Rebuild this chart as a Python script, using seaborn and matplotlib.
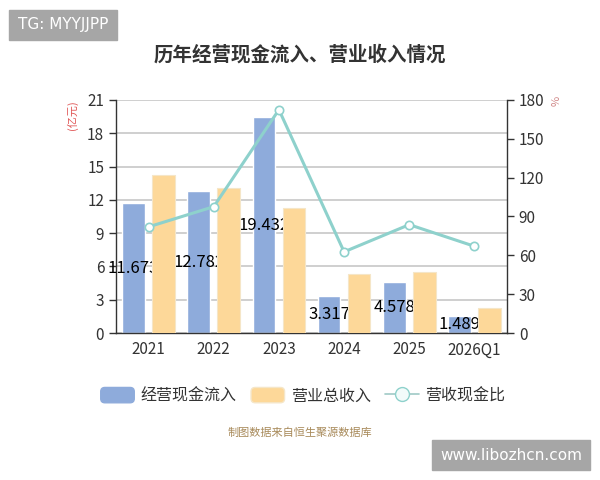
import matplotlib
matplotlib.use("Agg")
import matplotlib.pyplot as plt
from matplotlib.patches import Patch, Rectangle, FancyBboxPatch
from matplotlib.lines import Line2D
from matplotlib.legend_handler import HandlerPatch
import seaborn as sns
import numpy as np
import pandas as pd

years = ["2021", "2022", "2023", "2024", "2025", "2026Q1"]
cash_inflow = [11.673, 12.782, 19.432, 3.317, 4.578, 1.489]
revenue = [14.23, 13.10, 11.26, 5.29, 5.47, 2.22]
cash_ratio = [82.0, 97.6, 172.5, 62.7, 83.7, 67.0]

sns.set_style("white")
plt.rcParams['font.family'] = ['Noto Sans CJK SC', 'DejaVu Sans']

blue = "#8eabdb"
orange = "#fdd899"
teal = "#8ed1cc"
dark = "#333333"

df = pd.DataFrame({
    "year": years * 2,
    "value": cash_inflow + revenue,
    "kind": ["经营现金流入"] * len(years) + ["营业总收入"] * len(years),
})

fig = plt.figure(figsize=(6, 4.8), dpi=100)
ax = fig.add_axes([116 / 600, 1 - 333 / 480, 391 / 600, 233 / 480])

sns.barplot(data=df, x="year", y="value", hue="kind", order=years,
            palette=[blue, orange], width=0.92, gap=0.24, ax=ax,
            legend=False, saturation=1, zorder=2)

# labels sit on the blue bars, the orange bars are drawn over them
ax.bar_label(ax.containers[0], labels=[f"{v:.3f}" for v in cash_inflow],
             label_type="center", fontsize=12, color="black", zorder=3)
for p in ax.containers[1]:
    p.set_zorder(4)
    p.set_edgecolor("#f5e6c8")
    p.set_linewidth(0.8)

ax.set_ylim(0, 21)
ax.set_yticks(np.arange(0, 22, 3))
ax.set_xlim(-0.5, len(years) - 0.5)
ax.set_xticks(np.arange(-0.5, len(years), 1))
ax.set_xticklabels([])
ax.set_xticks(np.arange(len(years)), minor=True)
ax.set_xticklabels(years, minor=True, fontsize=11, color=dark)
ax.tick_params(axis="x", which="minor", length=0, pad=6)
ax.tick_params(axis="x", which="major", length=5, width=1, color=dark, direction="out")
ax.tick_params(axis="y", length=5, width=1, color=dark, labelsize=11, labelcolor=dark)
ax.set_xlabel("")
ax.set_ylabel("")
ax.yaxis.grid(True, color="#cccccc", lw=1.3)
ax.set_axisbelow(True)
for s in ["left", "bottom"]:
    ax.spines[s].set_color(dark)
    ax.spines[s].set_linewidth(1)
ax.spines["top"].set_visible(False)
ax.spines["right"].set_visible(False)

ax2 = ax.twinx()
xs = np.arange(len(years))
sns.lineplot(x=xs, y=cash_ratio, ax=ax2, color=teal, lw=2.2, marker="o",
             markersize=6, markerfacecolor="white", markeredgecolor=teal,
             markeredgewidth=1.2, zorder=5)
ax2.set_ylim(0, 180)
ax2.set_yticks(np.arange(0, 181, 30))
ax2.tick_params(axis="y", length=5, width=1, color=dark, labelsize=11, labelcolor=dark)
ax2.spines["right"].set_color(dark)
ax2.spines["right"].set_linewidth(1)
for s in ["left", "top", "bottom"]:
    ax2.spines[s].set_visible(False)
ax2.set_xlim(-0.5, len(years) - 0.5)

fig.text(72 / 600, 1 - 115 / 480, "(亿元)", rotation=90, color="#e05555",
         fontsize=8, ha="center", va="center")
fig.text(557 / 600, 1 - 101 / 480, "%", rotation=90, color="#d08888",
         fontsize=8, ha="center", va="center")

fig.text(0.5, 1 - 55 / 480, "历年经营现金流入、营业收入情况", fontsize=14,
         fontweight="bold", color=dark, ha="center", va="center")

# watermark boxes
fig.patches.append(Rectangle((9 / 600, 1 - 40 / 480), 108 / 600, 30 / 480,
                             transform=fig.transFigure, color="#a6a6a6", zorder=0))
fig.text(63 / 600, 1 - 25 / 480, "TG: MYYJJPP", fontsize=11, color="white",
         ha="center", va="center", family=["DejaVu Sans"])
fig.patches.append(Rectangle((432 / 600, 1 - 470 / 480), 158 / 600, 30 / 480,
                             transform=fig.transFigure, color="#a6a6a6", zorder=0))
fig.text(511 / 600, 1 - 455 / 480, "www.libozhcn.com", fontsize=11, color="white",
         ha="center", va="center", family=["DejaVu Sans"])


def rounded(legend, orig_handle, xdescent, ydescent, width, height, fontsize):
    return FancyBboxPatch((-xdescent, -ydescent), width, height,
                          boxstyle="round,pad=0,rounding_size=3")


handles = [
    Patch(facecolor=blue, edgecolor=blue),
    Patch(facecolor=orange, edgecolor="#f5e6c8"),
    Line2D([0], [0], color="#9fc9c6", lw=1.2, marker="o", markersize=10,
           markerfacecolor="#f2fbfa", markeredgecolor=teal),
]
fig.legend(handles, ["经营现金流入", "营业总收入", "营收现金比"], loc="center",
           bbox_to_anchor=(0.505, 1 - 396 / 480), ncol=3, frameon=False,
           fontsize=11.5, handlelength=2.1, handleheight=1.1, columnspacing=0.9,
           handletextpad=0.4, labelcolor=dark,
           handler_map={Patch: HandlerPatch(patch_func=rounded)})

fig.text(0.5, 1 - 433 / 480, "制图数据来自恒生聚源数据库", fontsize=8,
         color="#a88a5a", ha="center", va="center")

fig.savefig("out.png", dpi=100)
